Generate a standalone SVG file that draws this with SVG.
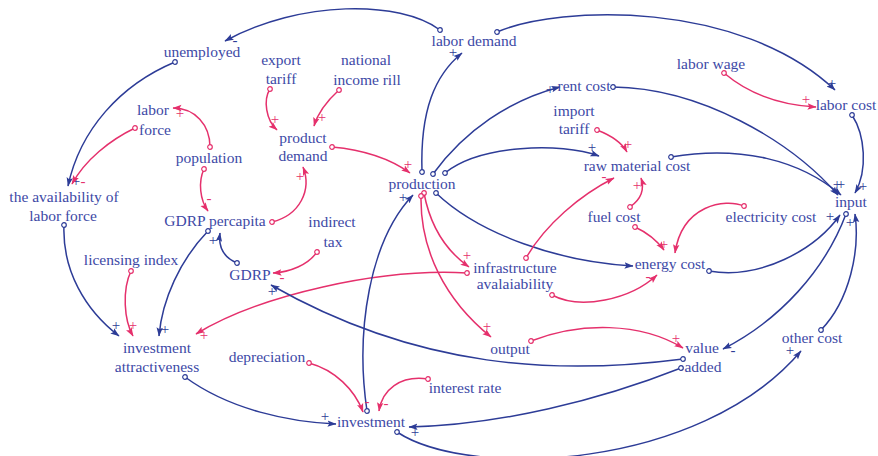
<svg xmlns="http://www.w3.org/2000/svg" width="878" height="456" viewBox="0 0 878 456">
  <style>
    .lbl { font-family: "Liberation Serif", "Times New Roman", serif; font-size: 15.5px; fill: #3d49a6; text-anchor: middle; }
    .sg { font-family: "Liberation Serif", "Times New Roman", serif; font-size: 15px; text-anchor: middle; }
    .sb { fill: #2d3c97; }
    .sp { fill: #e5306c; }
    .b { fill: none; stroke: #2d3c97; stroke-width: 1.5; marker-start: url(#dotB); marker-end: url(#arrB); }
    .p { fill: none; stroke: #e5306c; stroke-width: 1.5; marker-start: url(#dotP); marker-end: url(#arrP); }
  </style>
  <defs>
    <marker id="arrB" markerUnits="userSpaceOnUse" markerWidth="10" markerHeight="8" refX="8.5" refY="4" orient="auto">
      <path d="M0,0.8 L9,4 L0,7.2 L1.8,4 z" fill="#2d3c97"/>
    </marker>
    <marker id="arrP" markerUnits="userSpaceOnUse" markerWidth="10" markerHeight="8" refX="8.5" refY="4" orient="auto">
      <path d="M0,0.8 L9,4 L0,7.2 L1.8,4 z" fill="#e5306c"/>
    </marker>
    <marker id="dotB" markerUnits="userSpaceOnUse" markerWidth="7" markerHeight="7" refX="3.5" refY="3.5">
      <circle cx="3.5" cy="3.5" r="2.3" fill="#fff" stroke="#2d3c97" stroke-width="1.2"/>
    </marker>
    <marker id="dotP" markerUnits="userSpaceOnUse" markerWidth="7" markerHeight="7" refX="3.5" refY="3.5">
      <circle cx="3.5" cy="3.5" r="2.3" fill="#fff" stroke="#e5306c" stroke-width="1.2"/>
    </marker>
  </defs>
  <rect width="878" height="456" fill="#fff"/>

  <g id="connectors">
    <!-- labor side -->
    <path class="b" d="M440,30 C400,0 300,0 225,41"/>
    <text class="sg sb" x="235" y="45">-</text>
    <path class="b" d="M175,62 C120,85 80,130 68,186"/>
    <text class="sg sb" x="76" y="186">+</text>
    <path class="p" d="M135,128 C110,140 85,160 72,184"/>
    <text class="sg sp" x="83" y="186">-</text>
    <path class="p" d="M210,147 C210,125 195,108 173,108"/>
    <text class="sg sp" x="180" y="118">+</text>
    <path class="p" d="M204,169 C198,182 200,200 208,211"/>
    <text class="sg sp" x="209" y="203">-</text>
    <path class="p" d="M272,222 C300,215 312,190 303,167"/>
    <text class="sg sp" x="300" y="181">+</text>
    <path class="p" d="M270,89 C263,100 266,120 277,130"/>
    <text class="sg sp" x="275" y="124">+</text>
    <path class="p" d="M339,90 C328,100 318,112 314,126"/>
    <text class="sg sp" x="322" y="122">+</text>
    <path class="p" d="M332,147 C365,150 392,160 410,173"/>
    <text class="sg sp" x="408" y="169">+</text>

    <!-- production outflows -->
    <path class="b" d="M422,172 C420,110 435,75 462,53"/>
    <text class="sg sb" x="453" y="57">+</text>
    <path class="b" d="M433,174 C465,130 510,100 560,87"/>
    <text class="sg sb" x="550" y="94">+</text>
    <path class="b" d="M445,173 C480,145 560,142 599,156"/>
    <text class="sg sb" x="592" y="152">+</text>
    <path class="b" d="M436,193 C480,235 560,262 633,266"/>
    <path class="p" d="M424,193 C430,225 445,250 469,267"/>
    <text class="sg sp" x="467" y="260">+</text>
    <path class="p" d="M421,196 C420,250 445,300 491,337"/>
    <text class="sg sp" x="487" y="331">+</text>

    <!-- cost structure -->
    <path class="p" d="M467,273 C380,268 260,295 196,334"/>
    <text class="sg sp" x="204" y="340">+</text>
    <path class="p" d="M552,295 C580,310 630,300 657,275"/>
    <text class="sg sp" x="648" y="281">-</text>
    <path class="p" d="M526,258 C545,225 580,195 614,178"/>
    <text class="sg sp" x="604" y="181">-</text>
    <path class="p" d="M597,130 C610,135 622,143 627,152"/>
    <text class="sg sp" x="628" y="149">+</text>
    <path class="p" d="M630,207 C640,200 645,190 641,178"/>
    <text class="sg sp" x="637" y="190">+</text>
    <path class="p" d="M635,227 C648,233 658,242 664,250"/>
    <text class="sg sp" x="664" y="249">+</text>
    <path class="p" d="M744,206 C725,198 682,205 675,253"/>
    <path class="b" d="M709,271 C760,280 815,250 840,215"/>
    <text class="sg sb" x="830" y="221">+</text>
    <path class="b" d="M671,157 C740,145 800,160 841,195"/>
    <text class="sg sb" x="837" y="189">+</text>
    <path class="b" d="M613,87 C700,88 790,140 838,195"/>
    <text class="sg sb" x="841" y="189">+</text>
    <path class="b" d="M497,32 C560,5 740,0 835,90"/>
    <text class="sg sb" x="832" y="88">+</text>
    <path class="p" d="M724,73 C750,95 780,105 816,107"/>
    <text class="sg sp" x="806" y="104">+</text>
    <path class="b" d="M852,115 C865,135 868,170 855,193"/>
    <text class="sg sb" x="863" y="191">+</text>
    <path class="b" d="M846,214 C825,270 780,320 723,349"/>
    <text class="sg sb" x="733" y="355">-</text>
    <path class="b" d="M821,330 C850,300 860,250 855,214"/>
    <text class="sg sb" x="850" y="227">+</text>

    <!-- value added and investment -->
    <path class="b" d="M397,432 C470,480 700,470 801,351"/>
    <text class="sg sb" x="790" y="355">+</text>
    <path class="b" d="M681,368 C600,400 500,425 409,427"/>
    <text class="sg sb" x="415" y="437">+</text>
    <path class="b" d="M683,359 C560,375 420,370 271,285"/>
    <text class="sg sb" x="272" y="296">+</text>
    <path class="p" d="M531,341 C580,322 640,322 683,348"/>
    <text class="sg sp" x="676" y="343">+</text>
    <path class="b" d="M185,377 C230,410 290,422 336,424"/>
    <text class="sg sb" x="325" y="421">+</text>
    <path class="b" d="M367,411 C355,330 370,240 413,195"/>
    <text class="sg sb" x="403" y="202">+</text>
    <path class="p" d="M309,363 C335,370 355,390 363,412"/>
    <text class="sg sp" x="367" y="406">-</text>
    <path class="p" d="M428,379 C400,375 382,390 379,411"/>
    <text class="sg sp" x="386" y="408">-</text>

    <!-- investment attractiveness inputs -->
    <path class="p" d="M131,271 C122,290 124,320 133,336"/>
    <text class="sg sp" x="133" y="330">+</text>
    <path class="b" d="M64,225 C62,270 85,310 119,336"/>
    <text class="sg sb" x="116" y="330">+</text>
    <path class="b" d="M208,231 C180,260 162,300 159,336"/>
    <text class="sg sb" x="165" y="334">+</text>
    <path class="b" d="M237,263 C225,258 218,248 220,233"/>
    <text class="sg sb" x="213" y="245">+</text>
    <path class="p" d="M317,252 C308,265 290,272 273,273"/>
    <text class="sg sp" x="282" y="282">-</text>
  </g>

  <g id="unemployed"><text class="lbl" x="202" y="57">unemployed</text></g>
  <g id="export-tariff"><text class="lbl" x="281" y="65">export</text><text class="lbl" x="281" y="84">tariff</text></g>
  <g id="national-income-rill"><text class="lbl" x="366" y="65">national</text><text class="lbl" x="367" y="85">income rill</text></g>
  <g id="labor-demand"><text class="lbl" x="474" y="46">labor demand</text></g>
  <g id="labor-wage"><text class="lbl" x="711" y="69">labor wage</text></g>
  <g id="rent-cost"><text class="lbl" x="584" y="91">rent cost</text></g>
  <g id="labor-cost"><text class="lbl" x="846" y="110">labor cost</text></g>
  <g id="labor-force"><text class="lbl" x="153" y="115">labor</text><text class="lbl" x="155" y="135">force</text></g>
  <g id="population"><text class="lbl" x="209" y="163">population</text></g>
  <g id="product-demand"><text class="lbl" x="303" y="143">product</text><text class="lbl" x="303" y="161">demand</text></g>
  <g id="import-tariff"><text class="lbl" x="574" y="116">import</text><text class="lbl" x="574" y="134">tariff</text></g>
  <g id="production"><text class="lbl" x="422" y="189">production</text></g>
  <g id="raw-material-cost"><text class="lbl" x="637" y="171">raw material cost</text></g>
  <g id="availability-of-labor-force"><text class="lbl" x="64" y="202">the availability of</text><text class="lbl" x="63" y="221">labor force</text></g>
  <g id="gdrp-percapita"><text class="lbl" x="215" y="226">GDRP percapita</text></g>
  <g id="indirect-tax"><text class="lbl" x="332" y="227">indirect</text><text class="lbl" x="333" y="247">tax</text></g>
  <g id="fuel-cost"><text class="lbl" x="614" y="222">fuel cost</text></g>
  <g id="electricity-cost"><text class="lbl" x="771" y="222">electricity cost</text></g>
  <g id="input"><text class="lbl" x="851" y="207">input</text></g>
  <g id="licensing-index"><text class="lbl" x="131" y="265">licensing index</text></g>
  <g id="gdrp"><text class="lbl" x="250" y="280">GDRP</text></g>
  <g id="infrastructure-availability"><text class="lbl" x="515" y="273">infrastructure</text><text class="lbl" x="515" y="289">avalaiability</text></g>
  <g id="energy-cost"><text class="lbl" x="670" y="269">energy cost</text></g>
  <g id="investment-attractiveness"><text class="lbl" x="157" y="353">investment</text><text class="lbl" x="157" y="372">attractiveness</text></g>
  <g id="depreciation"><text class="lbl" x="267" y="362">depreciation</text></g>
  <g id="output"><text class="lbl" x="510" y="354">output</text></g>
  <g id="value-added"><text class="lbl" x="702" y="353">value</text><text class="lbl" x="703" y="372">added</text></g>
  <g id="other-cost"><text class="lbl" x="812" y="343">other cost</text></g>
  <g id="interest-rate"><text class="lbl" x="465" y="393">interest rate</text></g>
  <g id="investment"><text class="lbl" x="371" y="427">investment</text></g>
</svg>
